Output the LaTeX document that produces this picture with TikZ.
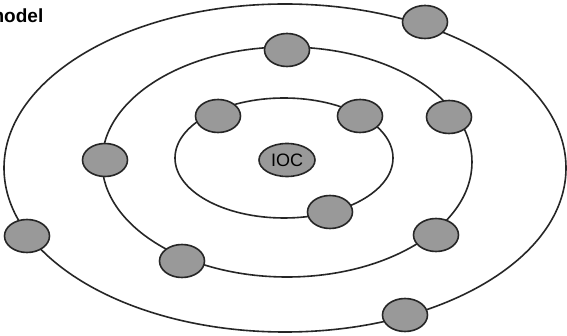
\documentclass[tikz,border=0pt]{standalone}
\usepackage{fontspec}
\setmainfont{Liberation Sans}
\usetikzlibrary{shapes.geometric}
\definecolor{edgec}{HTML}{262626}
\definecolor{dotc}{HTML}{999999}
\tikzset{
  ring/.style={ellipse, draw=edgec, line width=1.6pt, inner sep=0pt, fill=none},
  dot/.style={ellipse, draw=edgec, line width=1.6pt, fill=dotc, inner sep=0pt, minimum width=45pt, minimum height=33pt},
  core/.style={dot, minimum width=56pt, font=\fontsize{18}{18}\selectfont}
}
\begin{document}
\begin{tikzpicture}[x=1pt,y=-1pt]
\useasboundingbox (0,0) rectangle (567,336);
\fill[white] (0,0) rectangle (567,336);
% rings
\node[ring, minimum width=562pt, minimum height=328pt] (outer) at (285,168) {};
\node[ring, minimum width=370pt, minimum height=230pt] (middle) at (287,162) {};
\node[ring, minimum width=218pt, minimum height=120pt] (inner) at (284,158) {};
% title
\node[anchor=base east, inner sep=0pt, font=\fontsize{19}{19}\selectfont\bfseries] (title) at (43.5,23) {model};
% core
\node[core] (ioc) at (287,160) {IOC};
% inner ring members
\node[dot] (i1) at (218,116) {};
\node[dot] (i2) at (360,116) {};
\node[dot] (i3) at (330,212) {};
% middle ring members
\node[dot] (m1) at (287,50) {};
\node[dot] (m2) at (105,160) {};
\node[dot] (m3) at (449,117) {};
\node[dot] (m4) at (436,235) {};
\node[dot] (m5) at (182,261) {};
% outer ring members
\node[dot] (o1) at (425,22) {};
\node[dot] (o2) at (27,236) {};
\node[dot] (o3) at (405,315) {};
\end{tikzpicture}
\end{document}
